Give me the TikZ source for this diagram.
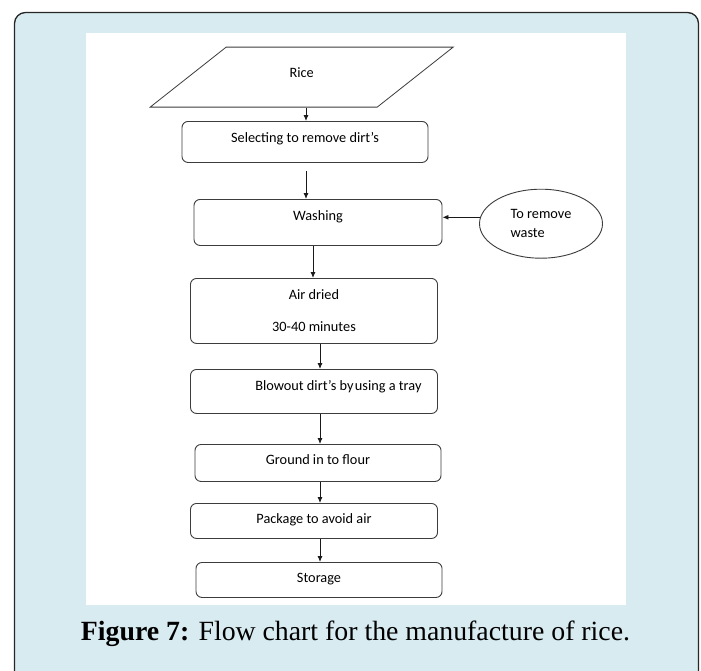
\documentclass[tikz,border=0pt]{standalone}
\usepackage{fontspec}
\setmainfont{Liberation Serif}
\newfontfamily\chartfont{Carlito}
\usetikzlibrary{arrows.meta, shapes.geometric}

\definecolor{panelblue}{RGB}{216,235,241}
\definecolor{linegray}{RGB}{60,60,60}

\tikzset{
    procbox/.style={draw=linegray, line width=0.9pt, rounded corners=6pt,
        inner xsep=0pt, inner ysep=0pt, align=center,
        font=\chartfont\fontsize{14.3}{17.2}\selectfont},
    flow/.style={-{Latex[length=6pt,width=5pt]}, line width=0.9pt, draw=black!90}
}

\begin{document}
\begin{tikzpicture}[x=1pt, y=-1pt]

    % --- Page and frame ---
    \useasboundingbox (0,0) rectangle (701,670);
    \begin{scope}
        \clip (0,0) rectangle (701,670);
        \draw[fill=panelblue, draw=black!85, line width=1.3pt, rounded corners=11pt]
            (14.5,12.5) rectangle (698.5,700);
    \end{scope}
    \fill[white] (86,32.7) rectangle (626,605);

    % --- Arrow columns ---
    \coordinate (c1) at (306,0);   % top two arrows
    \coordinate (c2) at (313,0);   % washing to drying
    \coordinate (c3) at (320,0);   % lower arrows

    % --- Nodes ---
    \node[trapezium, trapezium left angle=38.3, trapezium right angle=141.7,
          trapezium stretches body, draw=linegray, line width=0.8pt,
          minimum width=303pt, inner xsep=0pt, inner ysep=0pt,
          text height=30pt, text depth=30pt, anchor=north,
          font=\chartfont\fontsize{14.3}{17.2}\selectfont]
        (rice) at (301.7,46.7) {Rice};

    \node[procbox, minimum width=246pt, text height=20.7pt, text depth=20.3pt, anchor=north]
        (select) at (305,121) {Selecting to remove dirt’s};

    \node[procbox, minimum width=248pt, text height=21pt, text depth=25pt, anchor=north]
        (wash) at (318,199) {Washing};

    \node[ellipse, draw=linegray, line width=0.9pt, minimum width=123pt, minimum height=69pt,
          inner sep=0pt, align=left, font=\chartfont\fontsize{14.3}{17.2}\selectfont]
        (waste) at (541,223.7) {To remove\\[1.8pt]waste};

    \node[procbox, minimum width=247pt, minimum height=65pt, anchor=north]
        (air) at (314,278) {Air dried\\[14.8pt]30-40 minutes};

    \node[procbox, minimum width=247pt, text height=21pt, text depth=23pt, anchor=north]
        (blow) at (314,369) {\makebox[215pt][r]{Blowout dirt’s by\hspace{1.5pt}using a tray}};

    \node[procbox, minimum width=246pt, text height=20.3pt, text depth=16.7pt, anchor=north]
        (ground) at (318,444) {Ground in to flour};

    \node[procbox, minimum width=247pt, text height=20.3pt, text depth=14.7pt, anchor=north]
        (package) at (314,503) {Package to avoid air};

    \node[procbox, minimum width=246pt, text height=19.7pt, text depth=15.3pt, anchor=north]
        (storage) at (319,562) {Storage};

    % --- Connectors ---
    \draw[flow] (rice.south -| c1) -- (select.north -| c1);
    \draw[flow, shorten <=8pt] (select.south -| c1) -- (wash.north -| c1);
    \draw[flow] (waste.174) -- (waste.174 -| wash.east);
    \draw[flow] (wash.south -| c2) -- (air.north -| c2);
    \draw[flow] (air.south -| c3) -- (blow.north -| c3);
    \draw[flow] (blow.south -| c3) -- (ground.north -| c3);
    \draw[flow] (ground.south -| c3) -- (package.north -| c3);
    \draw[flow] (package.south -| c3) -- (storage.north -| c3);

    % --- Caption ---
    \node[anchor=base, font=\fontsize{27.8}{33}\selectfont, inner sep=0pt]
        (caption) at (355.5,640.7) {\textbf{Figure 7:} Flow chart for the manufacture of rice.};

\end{tikzpicture}
\end{document}
